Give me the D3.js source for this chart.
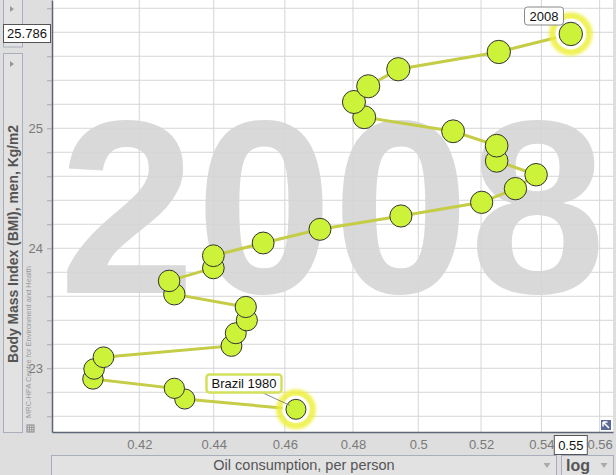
<!DOCTYPE html>
<html>
<head>
<meta charset="utf-8">
<script src="https://cdn.jsdelivr.net/npm/d3@7"></script>
<style>
  body { margin: 0; background: #dedede; }
  svg { display: block; font-family: "Liberation Sans", Arial, sans-serif; }
</style>
</head>
<body>
<div id="container"></div>
<script>
/* DATA */
const years = [1980, 1981, 1982, 1983, 1984, 1985, 1986, 1987, 1988, 1989,
               1990, 1991, 1992, 1993, 1994, 1995, 1996, 1997, 1998, 1999,
               2000, 2001, 2002, 2003, 2004, 2005, 2006, 2007, 2008];
const oil = [0.4632, 0.4321, 0.4293, 0.4080, 0.4083, 0.4107, 0.4449, 0.4461, 0.4492, 0.4489,
             0.4293, 0.4279, 0.4399, 0.4399, 0.4538, 0.4702, 0.4946, 0.5202, 0.5313, 0.5382,
             0.5251, 0.5251, 0.5110, 0.4834, 0.4803, 0.4846, 0.4938, 0.5258, 0.55];
const bmi = [22.658, 22.744, 22.833, 22.911, 22.994, 23.092, 23.186, 23.292, 23.400, 23.511,
             23.617, 23.728, 23.836, 23.938, 24.044, 24.158, 24.269, 24.383, 24.497, 24.613,
             24.728, 24.855, 24.975, 25.092, 25.219, 25.350, 25.492, 25.636, 25.786];
const population = [121.6, 124.4, 127.1, 129.9, 132.6, 135.3, 138.0, 140.6, 143.2, 145.7,
                    149.4, 151.6, 154.2, 156.8, 159.4, 161.9, 164.4, 166.9, 169.3, 171.7,
                    174.4, 176.9, 179.3, 181.6, 183.9, 186.1, 188.2, 190.1, 191.9];
const xTicks = [0.42, 0.44, 0.46, 0.48, 0.5, 0.52, 0.54, 0.56];
const xTickLabels = ["0.42", "0.44", "0.46", "0.48", "0.5", "0.52", "0.54", "0.56"];
const yTicks = [23, 24, 25];
const yMinorTicks = d3.range(22.6, 26.01, 0.2);

const data = years.map((y, i) => ({ year: y, oil: oil[i], bmi: bmi[i], pop: population[i] }));
const first = data[0], last = data[data.length - 1];

/* LAYOUT */
const width = 616, height = 475;
const plot = { left: 52, right: 613, top: 0, bottom: 432 };

const svg = d3.select("#container").append("svg")
  .attr("width", width)
  .attr("height", height);

const defs = svg.append("defs");
defs.append("filter").attr("id", "glow")
  .attr("x", "-50%").attr("y", "-50%").attr("width", "200%").attr("height", "200%")
  .append("feGaussianBlur").attr("stdDeviation", 1.6);

/* SCALES */
const xScale = d3.scaleLog()
  .domain([0.3977, 0.5647])
  .range([plot.left, plot.right]);

const yScale = d3.scaleLinear()
  .domain([22.469, 26.069])
  .range([plot.bottom, plot.top]);

const rScale = d3.scaleSqrt()
  .domain([121.6, 191.9])
  .range([10, 11.7]);

/* PLOT BACKGROUND */
svg.append("rect")
  .attr("x", plot.left).attr("y", plot.top)
  .attr("width", plot.right - plot.left).attr("height", plot.bottom - plot.top)
  .attr("fill", "#fff");

// year watermark
svg.append("text")
  .attr("x", (plot.left + plot.right) / 2)
  .attr("y", 293)
  .attr("text-anchor", "middle")
  .attr("font-size", 246)
  .attr("font-weight", "bold")
  .attr("fill", "#d9d9d9")
  .text(last.year);

/* GRID */
svg.append("g").selectAll("line")
  .data(xTicks)
  .join("line")
    .attr("x1", d => xScale(d)).attr("x2", d => xScale(d))
    .attr("y1", plot.top).attr("y2", plot.bottom)
    .attr("stroke", "#d6d6d6");

svg.append("g").selectAll("line")
  .data(yMinorTicks)
  .join("line")
    .attr("x1", plot.left).attr("x2", plot.right)
    .attr("y1", d => yScale(d)).attr("y2", d => yScale(d))
    .attr("stroke", "#d6d6d6");

/* AXES */
const xAxis = d3.axisBottom(xScale)
  .tickValues(xTicks)
  .tickFormat((d, i) => xTickLabels[i])
  .tickSize(0)
  .tickSizeOuter(0)
  .tickPadding(8);
const gx = svg.append("g")
  .attr("transform", `translate(0,${plot.bottom})`)
  .call(xAxis);
gx.select(".domain").attr("stroke", "#5c6475").attr("stroke-width", 1.5);
gx.selectAll("text").attr("font-size", 13).attr("fill", "#7a7a7a");

const yAxis = d3.axisLeft(yScale)
  .tickValues(yMinorTicks)
  .tickFormat(d => yTicks.includes(Math.round(d * 10) / 10) ? d3.format("d")(d) : "")
  .tickSize(5)
  .tickSizeOuter(0)
  .tickPadding(4);
const gy = svg.append("g")
  .attr("transform", `translate(${plot.left},0)`)
  .call(yAxis);
gy.select(".domain").attr("stroke", "#5c6475").attr("stroke-width", 1.5);
gy.selectAll("line").attr("stroke", "#aaa");
gy.selectAll("text").attr("font-size", 13).attr("fill", "#7a7a7a");

/* TRAIL */
svg.append("path")
  .datum(data)
  .attr("fill", "none")
  .attr("stroke", "#c5cc45")
  .attr("stroke-width", 3)
  .attr("d", d3.line().x(d => xScale(d.oil)).y(d => yScale(d.bmi)));

// halos on the selected points
[first, last].forEach(d => {
  const g = svg.append("g")
    .attr("transform", `translate(${xScale(d.oil)},${yScale(d.bmi)})`);
  g.append("circle").attr("r", rScale(d.pop) + 6.5)
    .attr("fill", "none").attr("stroke", "#eef03a").attr("stroke-width", 7)
    .attr("opacity", 0.85).attr("filter", "url(#glow)");
  g.append("circle").attr("r", rScale(d.pop) + 3.5).attr("fill", "#fff");
});

/* POINTS */
svg.append("g").selectAll("circle")
  .data(data)
  .join("circle")
    .attr("cx", d => xScale(d.oil))
    .attr("cy", d => yScale(d.bmi))
    .attr("r", d => rScale(d.pop))
    .attr("fill", "#cdf23a")
    .attr("stroke", "#333")
    .attr("stroke-width", 1);

/* LABELS */
function label(text, cx, cy, border, bw) {
  const g = svg.append("g");
  const t = g.append("text")
    .attr("x", cx).attr("y", cy + 4.5)
    .attr("text-anchor", "middle")
    .attr("font-size", 13)
    .attr("fill", "#111")
    .text(text);
  const w = t.node().getComputedTextLength() + 10;
  g.insert("rect", "text")
    .attr("x", cx - w / 2).attr("y", cy - 9)
    .attr("width", w).attr("height", 18)
    .attr("rx", 3)
    .attr("fill", "#fff")
    .attr("stroke", border)
    .attr("stroke-width", bw);
}

// leader line for Brazil 1980
svg.append("line")
  .attr("x1", 263).attr("y1", 393)
  .attr("x2", xScale(first.oil) - 6).attr("y2", yScale(first.bmi) - 4)
  .attr("stroke", "#888");
label(`Brazil ${first.year}`, 244, 383.5, "#d3e15a", 2.5);
label(String(last.year), 544, 16, "#888", 1);

/* LEFT PANEL */
const panelStroke = "#a8aebb";
svg.append("rect").attr("x", 3.5).attr("y", -3).attr("width", 19).attr("height", 50)
  .attr("fill", "#e2e2e2").attr("stroke", panelStroke);
svg.append("rect").attr("x", 3.5).attr("y", 53.5).attr("width", 19).attr("height", 379)
  .attr("fill", "#e2e2e2").attr("stroke", panelStroke);
[9, 64].forEach(y => svg.append("path")
  .attr("d", `M10,${y - 3}L14,${y}L10,${y + 3}Z`).attr("fill", "#9a9a9a"));

svg.append("text")
  .attr("transform", "translate(18,244) rotate(-90)")
  .attr("text-anchor", "middle")
  .attr("font-size", 15)
  .attr("font-weight", "bold")
  .attr("fill", "#555")
  .attr("textLength", 238)
  .attr("lengthAdjust", "spacingAndGlyphs")
  .text("Body Mass Index (BMI), men, Kg/m2");

svg.append("text")
  .attr("transform", "translate(31,418) rotate(-90)")
  .attr("font-size", 7.5)
  .attr("fill", "#9a9a9a")
  .text("MRC-HPA Centre for Environment and Health");

// small table icon
const icon = svg.append("g").attr("transform", "translate(27,425)");
icon.append("rect").attr("width", 7).attr("height", 7).attr("fill", "none").attr("stroke", "#888");
icon.append("path").attr("d", "M0,2.5H7M0,4.8H7M2.5,0V7M4.8,0V7").attr("stroke", "#888").attr("stroke-width", 0.7);

// value box on the y axis
svg.append("rect").attr("x", 3.5).attr("y", 24.5).attr("width", 47).attr("height", 18)
  .attr("fill", "#fff").attr("stroke", "#555");
svg.append("text").attr("x", 27).attr("y", 38).attr("text-anchor", "middle")
  .attr("font-size", 13).attr("fill", "#111").text(d3.format(".3f")(last.bmi));

/* BOTTOM PANEL */
svg.append("rect").attr("x", 51.5).attr("y", 455.5).attr("width", 505).attr("height", 22)
  .attr("fill", "#e2e2e2").attr("stroke", panelStroke);
svg.append("text").attr("x", 304).attr("y", 470).attr("text-anchor", "middle")
  .attr("font-size", 14.5).attr("fill", "#555").text("Oil consumption, per person");
svg.append("rect").attr("x", 561.5).attr("y", 455.5).attr("width", 52).attr("height", 22)
  .attr("fill", "#e2e2e2").attr("stroke", panelStroke);
svg.append("text").attr("x", 578).attr("y", 471).attr("text-anchor", "middle")
  .attr("font-size", 16).attr("font-weight", "bold").attr("fill", "#555").text("log");
[547, 604].forEach(x => svg.append("path")
  .attr("d", `M${x - 3.5},${463}L${x + 3.5},${463}L${x},${468}Z`).attr("fill", "#aaa"));

// value box on the x axis
svg.append("rect").attr("x", xScale(last.oil) - 16.5).attr("y", 435.5).attr("width", 33).attr("height", 19)
  .attr("fill", "#fff").attr("stroke", "#555");
svg.append("text").attr("x", xScale(last.oil)).attr("y", 450).attr("text-anchor", "middle")
  .attr("font-size", 13).attr("fill", "#111").text(last.oil);

// corner button
svg.append("rect").attr("x", 601).attr("y", 420).attr("width", 10).attr("height", 10).attr("fill", "#5a6a98");
svg.append("path").attr("d", "M603,422L603,426.5M603,422L607.5,422M603,422L609,428")
  .attr("stroke", "#fff").attr("stroke-width", 1.5);
</script>
</body>
</html>
